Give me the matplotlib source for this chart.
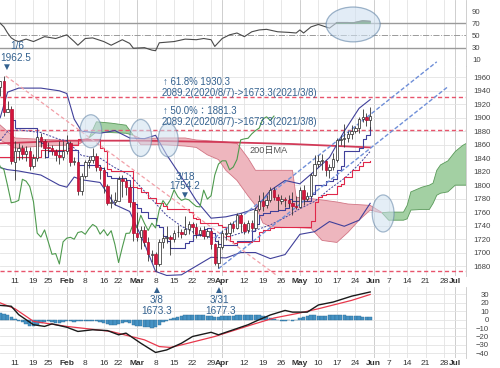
import numpy as np
import pandas as pd
import matplotlib
matplotlib.use("Agg")
import matplotlib.pyplot as plt
from matplotlib.patches import Ellipse

plt.rcParams['font.family'] = ['Liberation Sans', 'Noto Sans CJK JP', 'DejaVu Sans']

# trading calendar (COMEX gold, 2021)
holidays = pd.to_datetime(['2021-01-18', '2021-02-15', '2021-04-02', '2021-05-31', '2021-07-05'])
days = pd.bdate_range('2021-01-04', '2021-07-09')
days = days[~days.isin(holidays)]


def pos(d):
    return days.get_loc(pd.Timestamp(d))


tick_dates = ['2021-01-11', '2021-01-19', '2021-01-25', '2021-02-01', '2021-02-08', '2021-02-16',
              '2021-02-22', '2021-03-01', '2021-03-08', '2021-03-15', '2021-03-22', '2021-03-29',
              '2021-04-01', '2021-04-12', '2021-04-19', '2021-04-26', '2021-05-03', '2021-05-10',
              '2021-05-17', '2021-05-24', '2021-06-01', '2021-06-07', '2021-06-14', '2021-06-21',
              '2021-06-28', '2021-07-01']
tick_labels = ['11', '19', '25', 'Feb', '8', '16', '22', 'Mar', '8', '15', '22', '29', 'Apr',
               '12', '19', '26', 'May', '10', '17', '24', 'Jun', '7', '14', '21', '28', 'Jul']

# daily candles 2021/1/4 - 2021/5/28
opens = [1900, 1946, 1954, 1909, 1913, 1835, 1851, 1855, 1846, 1851,
         1829, 1840, 1871, 1866, 1856, 1855, 1850, 1844, 1842, 1850,
         1863, 1834, 1835, 1791, 1813, 1834, 1838, 1843, 1827, 1823,
         1799, 1774, 1775, 1777, 1809, 1806, 1798, 1775, 1729, 1723,
         1734, 1716, 1697, 1698, 1683, 1716, 1721, 1723, 1720, 1730,
         1731, 1727, 1735, 1742, 1738, 1727, 1734, 1725, 1732, 1712,
         1685, 1708, 1728, 1729, 1743, 1737, 1755, 1743, 1733, 1744,
         1737, 1764, 1777, 1770, 1778, 1793, 1783, 1777, 1780, 1778,
         1773, 1768, 1768, 1793, 1779, 1784, 1815, 1831, 1836, 1836,
         1823, 1827, 1838, 1867, 1869, 1870, 1876, 1881, 1885, 1898,
         1901, 1896]
highs = [1947, 1955, 1962.5, 1925, 1917, 1866, 1862, 1860, 1858, 1856,
         1846, 1873, 1877, 1869, 1864, 1860, 1854, 1866, 1866, 1875,
         1866, 1842, 1838, 1818, 1838, 1843, 1855, 1848, 1829, 1827,
         1801, 1787, 1790, 1814, 1815, 1810, 1802, 1775, 1760, 1740,
         1740, 1723, 1704, 1701, 1720, 1727, 1739, 1726, 1734, 1741,
         1735, 1754.2, 1747, 1745, 1744, 1738, 1739, 1735, 1733, 1714,
         1718, 1734, 1737, 1746, 1747, 1758, 1758, 1745, 1748, 1748,
         1767, 1785, 1790, 1785, 1797, 1798, 1787, 1785, 1782, 1785,
         1790, 1784, 1798, 1800, 1790, 1818, 1845, 1845, 1846, 1838,
         1831, 1847, 1870, 1875, 1890, 1880, 1889, 1888, 1901, 1913,
         1907, 1916]
lows = [1898, 1933, 1902, 1908, 1832, 1807, 1838, 1839, 1836, 1823,
        1826, 1836, 1857, 1840, 1848, 1845, 1836, 1832, 1838, 1846,
        1828, 1830, 1785, 1785, 1810, 1825, 1833, 1821, 1809, 1789,
        1771, 1766, 1771, 1776, 1783, 1785, 1768, 1717, 1717, 1706,
        1710, 1688, 1686, 1673.3, 1680, 1707, 1714, 1697, 1716, 1723,
        1721, 1726, 1728, 1727, 1721, 1724, 1720, 1722, 1705, 1681,
        1677.3, 1705, 1719, 1725, 1731, 1735, 1731, 1727, 1729, 1733,
        1735, 1761, 1762, 1766, 1775, 1778, 1763, 1772, 1767, 1768,
        1756, 1765, 1766, 1771, 1776, 1782, 1813, 1827, 1822, 1814,
        1810, 1823, 1835, 1860, 1856, 1864, 1868, 1877, 1877, 1894,
        1888, 1882]
closes = [1946.6, 1954.4, 1908.6, 1913.6, 1835.4, 1850.8, 1855.2, 1845.5, 1851.4, 1828.9,
          1840.2, 1871.3, 1866.0, 1855.8, 1855.0, 1850.0, 1844.0, 1842.1, 1850.3, 1863.0,
          1834.0, 1835.4, 1791.2, 1813.0, 1834.0, 1838.0, 1842.7, 1827.3, 1823.2, 1799.3,
          1773.9, 1775.0, 1777.4, 1808.7, 1805.9, 1797.9, 1775.4, 1728.8, 1723.0, 1733.6,
          1715.8, 1697.4, 1698.5, 1683.0, 1715.9, 1721.4, 1722.6, 1719.8, 1729.7, 1731.1,
          1727.1, 1735.4, 1741.7, 1738.2, 1727.3, 1733.9, 1725.1, 1732.4, 1712.2, 1685.2,
          1707.7, 1728.4, 1728.8, 1743.0, 1737.0, 1755.3, 1743.3, 1732.7, 1743.6, 1736.5,
          1763.6, 1777.1, 1769.6, 1778.1, 1793.1, 1782.9, 1777.4, 1779.7, 1778.2, 1773.0,
          1768.4, 1767.7, 1792.6, 1779.3, 1784.3, 1815.0, 1831.3, 1836.1, 1836.1, 1822.7,
          1826.9, 1838.1, 1867.2, 1868.7, 1869.6, 1876.1, 1881.0, 1884.6, 1898.3, 1901.4,
          1896.0, 1902.5]

# Bollinger bands (20 day, +-2 sigma), read at sample days
bb_idx = [1, 3, 6, 12, 17, 19, 21, 23, 28, 32, 36, 40, 43, 46, 50, 54, 58, 62, 66, 70,
          74, 78, 82, 86, 90, 94, 98, 101]
bb_up = [1900, 1938, 1944, 1944, 1940, 1936, 1898, 1880, 1877, 1881, 1870, 1869, 1874, 1845,
         1812, 1777, 1751, 1753, 1758, 1765, 1792, 1807, 1802, 1821, 1841, 1880, 1914, 1927]
bb_mid = [1866, 1880, 1882, 1878, 1868, 1866, 1855, 1844, 1840, 1826, 1815, 1791, 1773, 1755,
          1739, 1728, 1722, 1722, 1729, 1733, 1741, 1752, 1765, 1776, 1794, 1810, 1831, 1850]
bb_lo = [1826, 1823, 1821, 1815, 1800, 1797, 1812, 1808, 1804, 1771, 1761, 1713, 1672, 1666,
         1667, 1680, 1693, 1692, 1700, 1700, 1691, 1697, 1727, 1731, 1746, 1739, 1748, 1773]

# ichimoku conversion / base lines (step changes)
tenkan_idx = [4, 5, 11, 12, 13, 14, 18, 19, 20, 21, 22, 28, 29, 30, 31, 35, 36, 37, 38, 39,
              41, 43, 44, 45, 46, 47, 49, 51, 52, 53, 56, 57, 58, 59, 60, 61, 65, 69, 70, 71,
              72, 74, 76, 78, 79, 80, 85, 86, 89, 91, 92, 93, 94, 98, 99, 100, 101]
tenkan = [1897, 1885, 1866, 1862, 1842, 1850, 1851.5, 1854.5, 1852.5, 1851.5, 1830, 1825.5,
          1820, 1813, 1810.5, 1807, 1797.5, 1772, 1766, 1760.5, 1751.5, 1741.5, 1737.5, 1724,
          1716.5, 1706.5, 1707, 1713.7, 1717, 1725.6, 1735, 1737, 1729.6, 1717.6, 1712, 1711,
          1717.7, 1731.5, 1743, 1755, 1758.5, 1762, 1763.5, 1766.5, 1779.5, 1777, 1787, 1800.5,
          1805.5, 1809, 1823, 1828.5, 1850, 1855.5, 1868, 1874, 1886]
kijun_idx = [1, 12, 20, 22, 28, 29, 30, 31, 37, 38, 39, 41, 42, 43, 45, 46, 52, 53, 54, 55,
             60, 61, 62, 63, 64, 65, 69, 71, 72, 74, 75, 83, 85, 86, 87, 88, 89, 92, 93, 94,
             95, 96, 98, 99, 101]
kijun = [1842, 1852, 1860, 1868, 1855, 1851, 1824, 1821.5, 1797, 1796, 1790.5, 1781.5, 1780.5,
         1774, 1769.5, 1764, 1760.5, 1751, 1750, 1744, 1741.5, 1737.5, 1724, 1716.5, 1713.7,
         1715.7, 1717.5, 1731, 1733.5, 1737, 1737.5, 1738.5, 1747.5, 1775, 1782, 1785.5, 1786.5,
         1798.5, 1801, 1811.5, 1812.5, 1823, 1828.5, 1834.5, 1836]

# ichimoku cloud (leading spans, shifted 26 days ahead)
cloud_idx = [0, 5, 12, 22, 25, 27, 31, 35, 37, 39, 45, 51, 54, 57, 60, 62, 65, 68, 70, 72,
             74, 80, 81, 85, 88, 92, 95, 98, 101, 104, 106, 110, 111, 112, 115, 117, 118, 119,
             120, 122, 124, 126, 127]
span_a = [1870, 1855, 1858, 1860, 1870, 1894, 1892, 1889, 1874, 1860, 1860, 1858, 1856, 1845,
          1838, 1822, 1807, 1784, 1770, 1744, 1738, 1737, 1737, 1736, 1718, 1715, 1730, 1748,
          1763, 1759, 1760, 1760, 1770, 1790, 1797, 1800, 1803, 1822, 1830, 1836, 1850, 1859,
          1862]
span_b = [1894, 1870, 1868, 1866, 1870, 1879, 1878, 1877, 1874, 1869, 1870, 1870, 1867, 1866,
          1865, 1864, 1862, 1840, 1822, 1822, 1822, 1822, 1782, 1780, 1778, 1775, 1772, 1771,
          1770, 1760, 1748, 1748, 1750, 1763, 1764, 1764, 1773, 1785, 1788, 1790, 1800, 1800,
          1800]

ma200_idx = [1, 20, 40, 60, 80, 101]
ma200 = [1862, 1866, 1866, 1864, 1861, 1856]

fib_levels = [1930.3, 1881.3, 1673.3]

# trend lines (start day, end day), (start price, end price)
channel_up = ([59, 119], [1722, 1983])
channel_lo = ([60, 122], [1676, 1946])
down_line = ([2.5, 76], [1962, 1665])

# RSI(14)
rsi_idx = [1, 2, 3, 4, 5, 6, 8, 10, 13, 16, 19, 21, 22, 24, 26, 29, 31, 34, 36, 37,
           40, 42, 43, 44, 48, 51, 54, 56, 58, 59, 61, 63, 65, 67, 69, 71, 73, 76, 79, 81,
           82, 83, 85, 87, 89, 90, 92, 95, 96, 99, 101]
rsi_val = [70, 64, 54, 46, 42, 40, 44, 40, 48, 45, 51, 40, 34, 45, 46, 40, 34, 43, 37, 29,
           30, 26, 25, 38, 40, 44, 43, 45, 43, 32, 45, 51, 54, 48, 56, 59, 60, 56, 55, 54,
           59, 54, 64, 68, 64, 62, 71, 71, 70, 74, 73]

# MACD
macd_idx = [1, 4, 6, 10, 13, 15, 19, 22, 26, 30, 33, 35, 39, 43, 46, 50, 53, 58, 60, 64,
            68, 71, 74, 78, 80, 84, 87, 91, 96, 101]
macd_val = [17, 16, 6, -6, -8, -5, -9, -14, -12, -13, -18, -16, -28, -39, -36, -28, -20, -15,
            -18, -12, -6, 0, 5.6, 11, 9, 9, 17.5, 21, 28, 33]
sig_idx = [1, 5, 10, 19, 31, 40, 44, 47, 50, 59, 69, 75, 82, 87, 96, 101]
sig_val = [20, 13, -2, -8, -14, -24, -32, -33, -30, -20, -6, 2, 8, 13, 23, 30]
hist = [8, 8, 7, 5, 3, 1, -1, -3, -5, -7,
        -8, -6, -4, -3, -2, -3, -4, -4, -3, -2,
        -2, -3, -2, -2, -1, -1, -1, -2, -3, -4,
        -5, -6, -6, -5, -4, -3, -4, -6, -7, -8,
        -9, -9, -10, -9, -6, -3, -1, 1, 2, 3,
        4, 5, 5, 6, 6, 5, 5, 4, 4, 3,
        3, 4, 4, 4, 4, 5, 5, 5, 6, 6,
        5, 5, 4, 3, 2, 1, 0, -1, -1, 0,
        -1, 0, 2, 3, 4, 5, 5, 4, 4, 4,
        5, 5, 5, 5, 5, 4, 4, 4, 4, 3,
        3, 3]

NAVY = '#40409a'
RED = '#e0284a'
NOTE = '#33618f'

# ---------------------------------------------------------------
fig = plt.figure(figsize=(5, 3.68), dpi=100)
fig.patch.set_facecolor('white')
W = 466 / 500
ax_rsi = fig.add_axes([0, 1 - 66 / 368, W, 66 / 368])
ax = fig.add_axes([0, 1 - 276 / 368, W, 210 / 368])
ax_macd = fig.add_axes([0, 10 / 368, W, 71 / 368])
ax_rsi.set_zorder(1)
ax_macd.set_zorder(2)
ax.set_zorder(3)

tick_pos = [pos(d) for d in tick_dates]
for a in (ax_rsi, ax, ax_macd):
    a.set_facecolor('none')
    a.set_xlim(0.95, 126.9)
    for s in ('top', 'left', 'bottom'):
        a.spines[s].set_visible(False)
    a.spines['right'].set_color('#c8c8c8')
    a.spines['right'].set_linewidth(0.6)
    a.yaxis.tick_right()
    a.tick_params(length=0, labelsize=5.6, labelcolor='#444444')
    for p, lab in zip(tick_pos, tick_labels):
        a.axvline(p, color='#c6c6c6' if lab.isalpha() else '#e3e3e3', lw=0.6, zorder=0)
    a.set_xticks(tick_pos)
    a.set_xticklabels(tick_labels, fontsize=6, color='#333333')
    for t, lab in zip(a.get_xticklabels(), tick_labels):
        if lab.isalpha():
            t.set_fontweight('bold')
    a.tick_params(axis='x', pad=1.5)

# ---- RSI ----
ax_rsi.set_ylim(0, 108)
ax_rsi.set_yticks([10, 30, 50, 70, 90])
ax_rsi.tick_params(axis='x', labelbottom=False)
ax_rsi.tick_params(axis='y', pad=4.3)
ax_rsi.axhline(70, color='#9a9a9a', lw=1.0, zorder=1)
ax_rsi.axhline(30, color='#9a9a9a', lw=1.0, zorder=1)
ax_rsi.axhline(50, color='#9a9a9a', lw=0.7, ls='-.', zorder=1)
rv = np.array(rsi_val, dtype=float)
ax_rsi.fill_between(rsi_idx, rv, 70, where=rv >= 70, interpolate=True, color='#3f7f3f', zorder=2)
ax_rsi.plot(rsi_idx, rv, color='#4a4a4a', lw=0.8, zorder=3)
ax_rsi.add_patch(Ellipse((96.4, 68), 14.6, 57, facecolor='#cfe0f0', alpha=0.6,
                         edgecolor='#5f82a5', lw=0.9, zorder=4))

# ---- main price panel ----
ax.set_ylim(1665.2, 1976.8)
ax.set_yticks(range(1680, 1961, 20))
ax.tick_params(axis='y', pad=5)
for v in range(1680, 1961, 20):
    ax.axhline(v, color='#e3e3e3', lw=0.6, zorder=0)

sa = np.array(span_a, dtype=float)
sb = np.array(span_b, dtype=float)
ax.fill_between(cloud_idx, sa, sb, where=sa >= sb, interpolate=True,
                facecolor='#a3d0a3', edgecolor='#5a9a5a', lw=0.6, zorder=1)
ax.fill_between(cloud_idx, sa, sb, where=sa < sb, interpolate=True,
                facecolor='#eeb6be', edgecolor='#d27584', lw=0.6, zorder=1)

for v in fib_levels:
    ax.axhline(v, color='#e8546c', lw=1.0, ls=(0, (3, 2)), zorder=2)

ax.plot(ma200_idx, ma200, color='#d23a58', lw=1.3, zorder=2)
ax.plot(bb_idx, bb_up, color=NAVY, lw=0.8, zorder=2)
ax.plot(bb_idx, bb_lo, color=NAVY, lw=0.8, zorder=2)
ax.plot(bb_idx, bb_mid, color=NAVY, lw=0.7, ls=(0, (2, 1.5)), zorder=2)
ax.plot(tenkan_idx, tenkan, color=NAVY, lw=0.8, drawstyle='steps-post', zorder=2)
ax.plot(kijun_idx, kijun, color=RED, lw=0.8, drawstyle='steps-post', zorder=2)

idx = np.arange(len(closes))
c = np.array(closes)
o = np.array(opens)
ax.plot(idx - 26, c, color='#4e9a4e', lw=0.8, zorder=2)  # chikou span

ax.plot(*down_line, color='#f2a0a8', lw=0.9, ls=(0, (3, 2)), zorder=2)
ax.plot(*channel_up, color='#6f8fd8', lw=1.0, ls=(0, (3, 1.5)), zorder=2, clip_on=False)
ax.plot(*channel_lo, color='#6f8fd8', lw=1.0, ls=(0, (3, 1.5)), zorder=2)

up = c >= o
ax.vlines(idx, lows, highs, color='#333333', lw=0.6, zorder=4)
ax.bar(idx, np.maximum(np.abs(c - o), 0.8), bottom=np.minimum(o, c), width=0.66,
       color=['white' if u else '#d4143c' for u in up],
       edgecolor=['#222222' if u else '#b21030' for u in up], linewidth=0.5, zorder=5)

for cx, cy, w, h in [(25.5, 1880, 5.9, 49), (39.0, 1870, 5.9, 55),
                     (46.4, 1867, 5.4, 50), (104.5, 1758, 5.9, 55)]:
    ax.add_patch(Ellipse((cx, cy), w, h, facecolor='#cfe0f0', alpha=0.55,
                         edgecolor='#5f82a5', lw=0.9, zorder=6))

# fibonacci labels
fkw = dict(fontsize=6.9, color=NOTE, ha='left', va='center', zorder=7)
ax.text(44.9, 1953.2, '\u2191 61.8% 1930.3', **fkw)
ax.text(44.6, 1937.4, '2089.2(2020/8/7)->1673.3(2021/3/8)', **fkw)
ax.text(44.9, 1909.6, '\u2191 50.0%\uff1a1881.3', **fkw)
ax.text(44.6, 1893.8, '2089.2(2020/8/7)->1673.3(2021/3/8)', **fkw)
ax.text(68.5, 1852, '200日MA', fontsize=6.6, color='#555555', ha='left', va='center', zorder=7)

# high / low markers
akw = dict(textcoords='offset points', ha='center', va='center', color=NOTE,
           fontsize=7.2, annotation_clip=False, zorder=8)
i6 = pos('2021-01-06')
ax.annotate('\u25bc', (i6, highs[i6]), xytext=(2.2, 6.5), **akw)
ax.annotate('1962.5', (i6, highs[i6]), xytext=(8.7, 12.9), **akw)
ax.annotate('1/6', (i6, highs[i6]), xytext=(9.4, 21.0), **akw)
i18 = pos('2021-03-18')
ax.annotate('\u25bc', (i18, highs[i18]), xytext=(0, 15), **akw)
ax.annotate('1754.2', (i18, highs[i18]), xytext=(-0.7, 21.6), **akw)
ax.annotate('3/18', (i18, highs[i18]), xytext=(0, 28.4), **akw)
i8 = pos('2021-03-08')
ax.annotate('\u25b2', (i8, lows[i8]), xytext=(1, -13.7), **akw)
ax.annotate('3/8', (i8, lows[i8]), xytext=(1, -21.2), **akw)
ax.annotate('1673.3', (i8, lows[i8]), xytext=(1, -29.2), **akw)
i31 = pos('2021-03-31')
ax.annotate('\u25b2', (i31, lows[i31]), xytext=(0.4, -15.6), **akw)
ax.annotate('3/31', (i31, lows[i31]), xytext=(0.4, -23.2), **akw)
ax.annotate('1677.3', (i31, lows[i31]), xytext=(1.8, -31.1), **akw)

# ---- MACD ----
ax_macd.set_ylim(-45.6, 38.9)
ax_macd.set_yticks(range(-40, 31, 10))
ax_macd.tick_params(axis='y', pad=16.5)
for t in ax_macd.get_yticklabels():
    t.set_horizontalalignment('right')
for v in range(-40, 31, 10):
    ax_macd.axhline(v, color='#e3e3e3', lw=0.6, zorder=0)
ax_macd.bar(idx, hist, width=0.92, color='#4592c4', edgecolor='#2d6e98', lw=0.3, zorder=2)
ax_macd.plot(sig_idx, sig_val, color='#e8384c', lw=0.9, zorder=3)
ax_macd.plot(macd_idx, macd_val, color='#1a1a1a', lw=1.0, zorder=4)

fig.savefig('out.png', dpi=100, facecolor='white')
